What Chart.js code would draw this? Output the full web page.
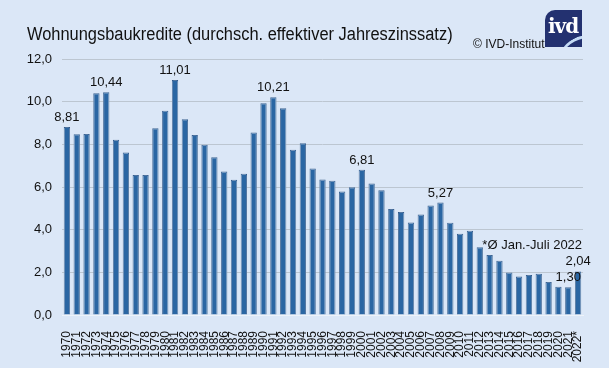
<!DOCTYPE html>
<html>
<head>
<meta charset="utf-8">
<script src="https://cdn.jsdelivr.net/npm/chart.js@4"></script>
<style>
  html, body { margin:0; padding:0; }
  body { width:609px; height:368px; background:#dbe7f7; position:relative; overflow:hidden;
         font-family:"Liberation Sans", Arial, sans-serif; }
  #chart { position:absolute; left:0; top:0; }
  #title { position:absolute; left:27px; top:24px; font-size:18px; color:#111; white-space:nowrap;
           transform-origin:left top; }
  #copy { position:absolute; left:473px; top:37px; font-size:12px; color:#111; white-space:nowrap; }
  #logo { position:absolute; left:545px; top:10px; width:37px; height:37px; background:#233170;
          border-radius:10px 0 0 0; overflow:hidden; }
  #logo span { position:absolute; left:3px; top:4px; color:#fff; font:bold 20px "DejaVu Serif", serif;
               letter-spacing:-1px; }
  #logo i { position:absolute; left:14px; top:27px; width:44px; height:30px; border-radius:50%;
            border-top:3px solid #c4dbf5; transform:rotate(-28deg); }
</style>
</head>
<body>
<canvas id="chart" width="609" height="368"></canvas>
<div id="title">Wohnungsbaukredite (durchsch. effektiver Jahreszinssatz)</div>
<div id="copy">© IVD-Institut</div>
<div id="logo"><span>ivd</span><i></i></div>
<script>
// Jahre 1970-2022 (2022 = Durchschnitt Jan.-Juli)
var years = ['1970','1971','1972','1973','1974','1975','1976','1977','1978','1979',
             '1980','1981','1982','1983','1984','1985','1986','1987','1988','1989',
             '1990','1991','1992','1993','1994','1995','1996','1997','1998','1999',
             '2000','2001','2002','2003','2004','2005','2006','2007','2008','2009',
             '2010','2011','2012','2013','2014','2015','2016','2017','2018','2019',
             '2020','2021','2022*'];
var rates = [8.81, 8.47, 8.48, 10.40, 10.44, 8.22, 7.62, 6.56, 6.56, 8.75,
             9.57, 11.01, 9.18, 8.44, 7.98, 7.39, 6.73, 6.34, 6.62, 8.56,
             9.93, 10.21, 9.69, 7.75, 8.05, 6.87, 6.35, 6.29, 5.79, 5.99,
             6.81, 6.16, 5.85, 4.97, 4.83, 4.34, 4.71, 5.13, 5.27, 4.33,
             3.81, 3.95, 3.18, 2.81, 2.54, 1.99, 1.80, 1.88, 1.93, 1.55,
             1.32, 1.30, 2.04];
var labelledYears = ['1970','1974','1981','1991','2000','2008','2021','2022*'];
var yTicks = [0, 2, 4, 6, 8, 10, 12];
var note = '*Ø Jan.-Juli 2022';

// Titel etwas schmaler, wie im Original
var t = document.getElementById('title');
t.style.transform = 'scaleX(' + (426 / t.offsetWidth) + ')';

function fmt(v, d) { return v.toFixed(d).replace('.', ','); }

var haloPlugin = {
    id: 'halo',
    beforeDatasetDraw: function (chart) {
        var c = chart.ctx;
        c.save();
        c.shadowColor = 'rgba(255,255,255,0.95)';
        c.shadowBlur = 2;
    },
    afterDatasetDraw: function (chart) { chart.ctx.restore(); }
};

var valuePlugin = {
    id: 'values',
    afterDatasetsDraw: function (chart) {
        var c = chart.ctx, meta = chart.getDatasetMeta(0);
        c.save();
        c.font = '13px "Liberation Sans", Arial, sans-serif';
        c.fillStyle = '#111';
        c.textAlign = 'center';
        c.textBaseline = 'alphabetic';
        labelledYears.forEach(function (y) {
            var i = years.indexOf(y), bar = meta.data[i];
            c.fillText(fmt(rates[i], 2), bar.x, bar.y - 6);
        });
        var last = meta.data[years.length - 1];
        c.textAlign = 'right';
        c.fillText(note, last.x + 4, last.y - 22);
        c.restore();
    }
};

new Chart(document.getElementById('chart'), {
    type: 'bar',
    data: {
        labels: years,
        datasets: [{ data: rates, backgroundColor: '#2a66a3', borderColor: '#1c4b83',
            borderWidth: 1, barPercentage: 0.64, categoryPercentage: 1 }]
    },
    options: {
        responsive: false, animation: false, devicePixelRatio: 1,
        layout: { padding: { top: 59, right: 26, left: 0, bottom: 0 } },
        plugins: { legend: { display: false }, tooltip: { enabled: false } },
        scales: {
            x: {
                grid: { display: false },
                border: { color: '#eef3f9' },
                ticks: { autoSkip: false, minRotation: 90, maxRotation: 90, padding: 8,
                         color: '#111', font: { size: 12, family: '"Liberation Sans", Arial, sans-serif' } },
                afterFit: function (s) { s.height = 53; }
            },
            y: {
                min: 0, max: 12,
                afterBuildTicks: function (s) { s.ticks = yTicks.map(function (v) { return { value: v }; }); },
                grid: { color: '#bcc6d1', drawTicks: false },
                border: { display: false },
                ticks: { padding: 10, color: '#111', callback: function (v) { return fmt(v, 1); },
                         font: { size: 13, family: '"Liberation Sans", Arial, sans-serif' } },
                afterFit: function (s) { s.width = 62; }
            }
        }
    },
    plugins: [haloPlugin, valuePlugin]
});
</script>
</body>
</html>
